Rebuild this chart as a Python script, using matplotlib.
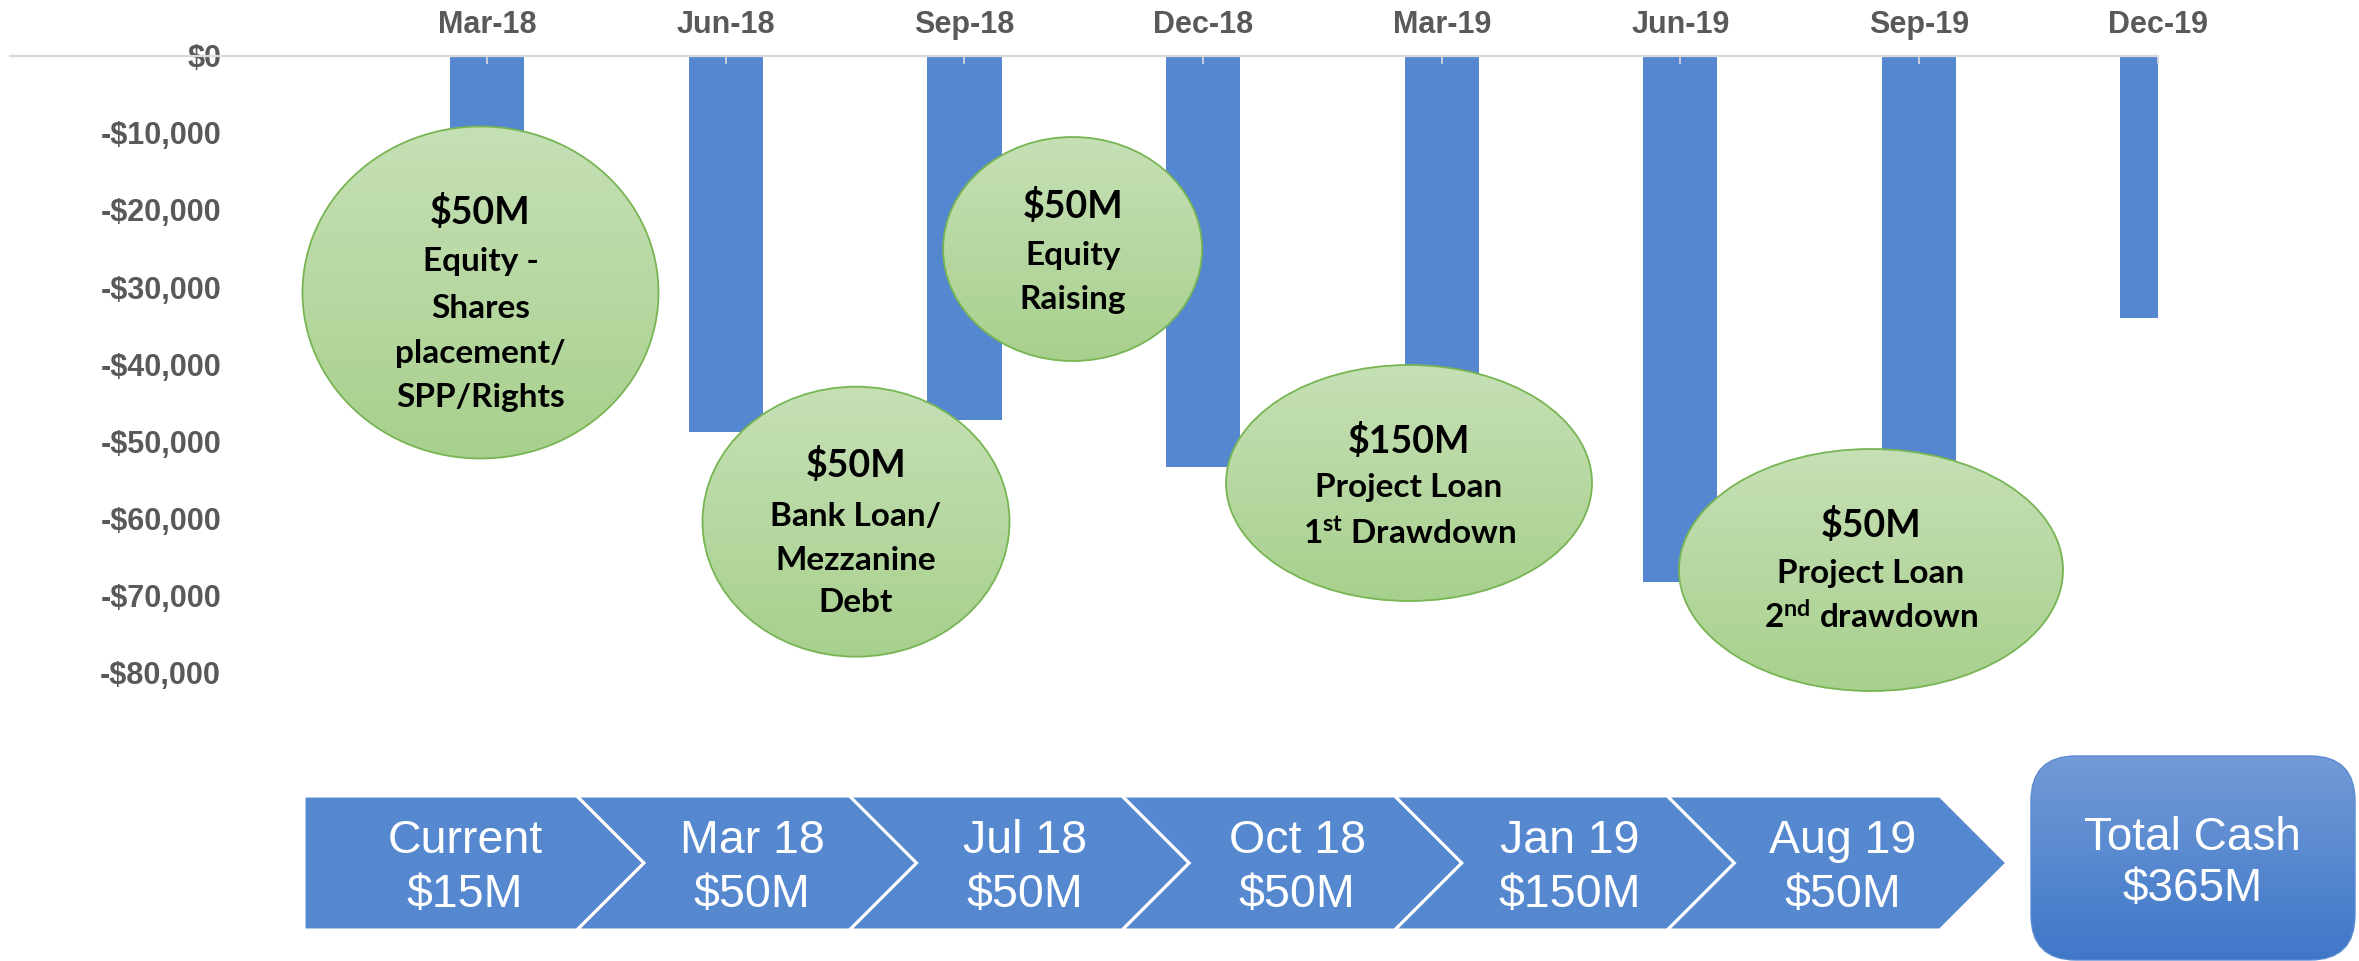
import numpy as np
import matplotlib
matplotlib.use('Agg')
import matplotlib.pyplot as plt
from matplotlib.patches import Ellipse, Polygon, FancyBboxPatch
from matplotlib.ticker import FuncFormatter
from matplotlib.colors import to_rgb

# ---------------- data ----------------
quarters = ['Mar-18', 'Jun-18', 'Sep-18', 'Dec-18', 'Mar-19', 'Jun-19', 'Sep-19', 'Dec-19']
cash_flow = [-20000, -48800, -47300, -53300, -45000, -68300, -55000, -34000]
y_ticks = [0, -10000, -20000, -30000, -40000, -50000, -60000, -70000, -80000]

stages = ['Current', 'Mar 18', 'Jul 18', 'Oct 18', 'Jan 19', 'Aug 19']
stage_amounts = ['$15M', '$50M', '$50M', '$50M', '$150M', '$50M']
total_lines = ['Total Cash', '$365M']

bubble_titles = ['$50M', '$50M', '$50M', '$150M', '$50M']
bubble_bodies = [
    ['Equity -', 'Shares', 'placement/', 'SPP/Rights'],
    ['Bank Loan/', 'Mezzanine', 'Debt'],
    ['Equity', 'Raising'],
    ['Project Loan', r'1$^{\mathrm{st}}$ Drawdown'],
    ['Project Loan', r'2$^{\mathrm{nd}}$ drawdown'],
]

# ---------------- style ----------------
plt.rcParams['mathtext.fontset'] = 'custom'
plt.rcParams['mathtext.rm'] = 'Lato:bold'
plt.rcParams['mathtext.it'] = 'Lato:bold'
plt.rcParams['mathtext.bf'] = 'Lato:bold'

W, H = 2359, 961
BAR = '#5587D0'
GRAY = '#595959'
AXF = 'Liberation Sans'

fig = plt.figure(figsize=(W / 100, H / 100), dpi=100)

x0, x1 = 10, 2157.6
yt, yb = 55.7, 672.5
ax = fig.add_axes([x0 / W, 1 - yb / H, (x1 - x0) / W, (yb - yt) / H])
ax.set_zorder(1)
ax.bar(range(len(quarters)), cash_flow, width=0.311, color=BAR)
ax.set_xlim(-2, 7)
ax.set_ylim(-80000, 0)
ax.set_yticks(y_ticks)
ax.yaxis.set_major_formatter(FuncFormatter(
    lambda v, p: '$0' if v == 0 else ('-$' if v < 0 else '$') + f'{abs(int(v)):,}'))
ax.xaxis.tick_top()
ax.set_xticks(range(len(quarters)))
ax.set_xticklabels(quarters)
ax.tick_params(axis='x', direction='in', length=6, width=1.2, color='#d9d9d9',
               pad=11.3, labelsize=22, labelcolor=GRAY)
ax.tick_params(axis='y', length=0, pad=-152, labelsize=22, labelcolor=GRAY)
for lbl in ax.get_xticklabels() + ax.get_yticklabels():
    lbl.set_fontweight('bold')
    lbl.set_family(AXF)
for s in ['left', 'right', 'bottom']:
    ax.spines[s].set_visible(False)
ax.spines['top'].set_color('#d9d9d9')
ax.spines['top'].set_linewidth(1.6)
ax.patch.set_alpha(0)

# ---------------- overlay ----------------
ov = fig.add_axes([0, 0, 1, 1])
ov.set_zorder(3)
ov.axis('off')


def grad_fill(patch, top, bottom, bx0, bx1, by0, by1):
    ov.add_patch(patch)
    t = np.linspace(0, 1, 256)[:, None, None]
    c = np.array(to_rgb(top))[None, None, :] * (1 - t) + np.array(to_rgb(bottom))[None, None, :] * t
    im = ov.imshow(c, extent=(bx0, bx1, by1, by0), aspect='auto',
                   interpolation='bilinear', zorder=patch.get_zorder() - 0.1)
    im.set_clip_path(patch)


# bubbles: (cx, cy, w, h, line_centres)
bubble_geo = [
    (480.5, 292.5, 356, 332, [212, 261, 308, 354, 397]),
    (856, 521.7, 307, 270, [465, 516, 560, 602]),
    (1072.6, 249, 259, 224, [206, 256, 299]),
    (1409, 483, 366, 236, [441, 488, 533]),
    (1871, 570, 384, 242, [525, 573, 617]),
]
for (cx, cy, w, h, ys), title, body in zip(bubble_geo, bubble_titles, bubble_bodies):
    e = Ellipse((cx, cy), w, h, facecolor='none', edgecolor='#77b553', lw=1.3, zorder=2)
    grad_fill(e, '#c6e0b6', '#a8d08d', cx - w / 2, cx + w / 2, cy - h / 2, cy + h / 2)
    ov.text(cx, ys[0], title, ha='center', va='center', fontsize=27,
            fontweight='bold', family='Lato', color='black', zorder=4)
    for line, y in zip(body, ys[1:]):
        ov.text(cx, y, line, ha='center', va='center', fontsize=24,
                fontweight='bold', family='Lato', color='black', zorder=4)

# chevrons
ctop, cbot = 796, 930
cmid = (ctop + cbot) / 2
d = 67
N = [577 + 272.6 * i for i in range(len(stages))]
for i, (st, amt) in enumerate(zip(stages, stage_amounts)):
    if i == 0:
        pts = [(304, ctop), (N[0], ctop), (N[0] + d, cmid), (N[0], cbot), (304, cbot)]
        tx = 465
    else:
        L = N[i - 1]
        pts = [(L, ctop), (N[i], ctop), (N[i] + d, cmid), (N[i], cbot), (L, cbot), (L + d, cmid)]
        tx = L + 175
    ov.add_patch(Polygon(pts, closed=True, facecolor='#5688D0', edgecolor='white',
                         lw=2.2, joinstyle='miter', zorder=2))
    ov.text(tx, 853, st, ha='center', va='baseline', fontsize=33.5,
            family=AXF, color='white', zorder=4)
    ov.text(tx, 907.5, amt, ha='center', va='baseline', fontsize=33.5,
            family=AXF, color='white', zorder=4)

# total cash box
bx0, by0, bw, bh = 2031, 756, 324, 204
box = FancyBboxPatch((bx0, by0), bw, bh, boxstyle='round,pad=0,rounding_size=45',
                     facecolor='none', edgecolor='#5a8ad0', lw=1.0, zorder=2)
grad_fill(box, '#729bd7', '#3f77c8', bx0, bx0 + bw, by0, by0 + bh)
ov.text(2192.5, 850, total_lines[0], ha='center', va='baseline', fontsize=33,
        family=AXF, color='white', zorder=4)
ov.text(2192.5, 901.5, total_lines[1], ha='center', va='baseline', fontsize=33,
        family=AXF, color='white', zorder=4)

ov.set_xlim(0, W)
ov.set_ylim(H, 0)

fig.savefig('out.png', dpi=100)
